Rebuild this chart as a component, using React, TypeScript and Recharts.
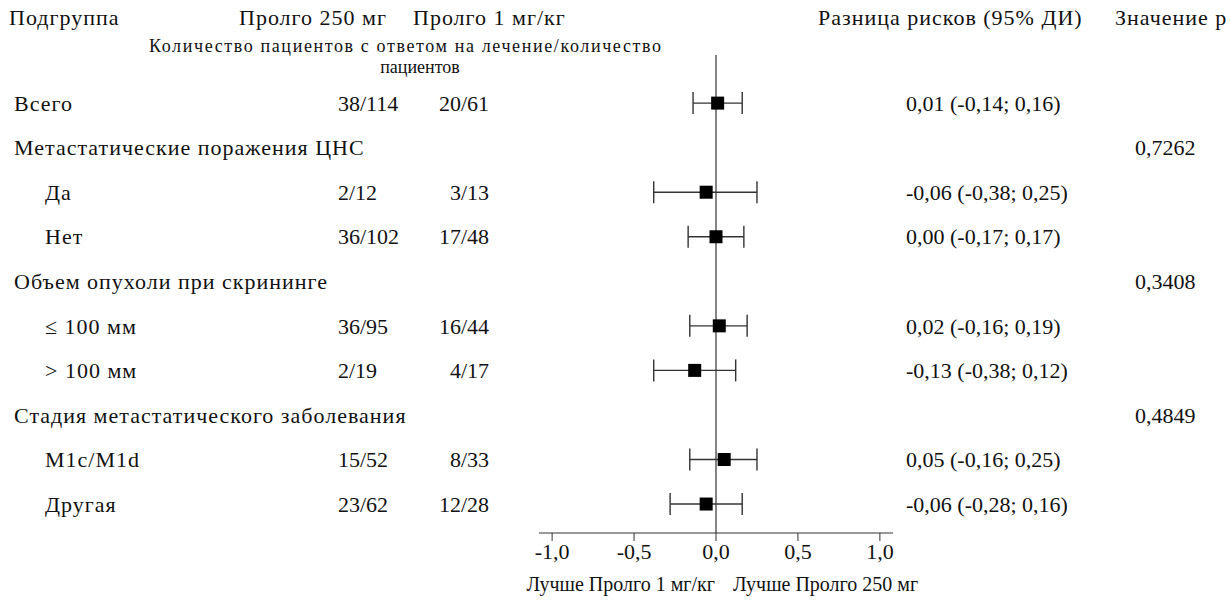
import {
  ScatterChart,
  Scatter,
  XAxis,
  YAxis,
  ErrorBar,
  ReferenceLine,
  Customized,
} from 'recharts'

document.body.style.margin = '0'

// Rows of the forest plot, top to bottom
const rowLabels = [
  'Всего',
  'Метастатические поражения ЦНС',
  'Да',
  'Нет',
  'Объем опухоли при скрининге',
  '≤ 100 мм',
  '> 100 мм',
  'Стадия метастатического заболевания',
  'M1c/M1d',
  'Другая',
]
const rowIndent = [false, false, true, true, false, true, true, false, true, true]
const resp250 = ['38/114', '', '2/12', '36/102', '', '36/95', '2/19', '', '15/52', '23/62']
const resp1 = ['20/61', '', '3/13', '17/48', '', '16/44', '4/17', '', '8/33', '12/28']
const riskDiff = [0.01, null, -0.06, 0.0, null, 0.02, -0.13, null, 0.05, -0.06]
const ciLow = [-0.14, null, -0.38, -0.17, null, -0.16, -0.38, null, -0.16, -0.28]
const ciHigh = [0.16, null, 0.25, 0.17, null, 0.19, 0.12, null, 0.25, 0.16]
const pValues = ['', '0,7262', '', '', '0,3408', '', '', '0,4849', '', '']
const xTicks = [-1, -0.5, 0, 0.5, 1]

const FONT = '"Liberation Serif", "Times New Roman", serif'
const FS = 22
const SPACING = 1
const INK = '#111'

const fmt = (v: number) => v.toFixed(2).replace('.', ',')

const points = riskDiff
  .map((rd, i) =>
    rd === null
      ? null
      : { x: rd, y: i, err: [rd - (ciLow[i] as number), (ciHigh[i] as number) - rd] }
  )
  .filter(Boolean) as Array<{ x: number; y: number; err: number[] }>

const rowIdx = rowLabels.map((_, i) => i)

// one table row: label, both response columns, risk difference and p value
function RowTick(props: any) {
  const { y, payload } = props
  const i = payload.value
  const rd = riskDiff[i]
  return (
    <g fontFamily={FONT} fontSize={FS} fill={INK}>
      <text x={rowIndent[i] ? 45 : 14} y={y} dy="0.35em" letterSpacing={SPACING}>
        {rowLabels[i]}
      </text>
      <text x={338} y={y} dy="0.35em">{resp250[i]}</text>
      <text x={489} y={y} dy="0.35em" textAnchor="end">{resp1[i]}</text>
      {rd !== null && (
        <text x={906} y={y} dy="0.35em">
          {`${fmt(rd)} (${fmt(ciLow[i] as number)}; ${fmt(ciHigh[i] as number)})`}
        </text>
      )}
      {pValues[i] && (
        <text x={1135} y={y} dy="0.35em">{pValues[i]}</text>
      )}
    </g>
  )
}

function Square(props: any) {
  const { cx, cy } = props
  return <rect x={cx - 6.5} y={cy - 6.5} width={13} height={13} fill="#000" />
}

function Headers() {
  return (
    <g fontFamily={FONT} fontSize={FS} fill={INK}>
      <text x={9} y={25} letterSpacing={SPACING}>Подгруппа</text>
      <text x={239} y={25} letterSpacing={SPACING}>Пролго 250 мг</text>
      <text x={413} y={25} letterSpacing={SPACING}>Пролго 1 мг/кг</text>
      <text x={149} y={52} fontSize={18} textLength={512} lengthAdjust="spacing">
        Количество пациентов с ответом на лечение/количество
      </text>
      <text x={420} y={73} textAnchor="middle" fontSize={18}>пациентов</text>
      <text x={818} y={25} letterSpacing={SPACING}>Разница рисков (95% ДИ)</text>
      <text x={1115} y={25} letterSpacing={SPACING}>Значение р</text>
      <text x={715} y={591} textAnchor="end" fontSize={20}>Лучше Пролго 1 мг/кг</text>
      <text x={733} y={591} fontSize={20}>Лучше Пролго 250 мг</text>
    </g>
  )
}

export default function App() {
  return (
    <ScatterChart
      width={1230}
      height={600}
      margin={{ top: 55, right: 337, left: 0, bottom: 37 }}
      style={{ background: '#fff' }}
    >
      <XAxis
        type="number"
        dataKey="x"
        domain={[-1.08, 1.08]}
        ticks={xTicks}
        allowDataOverflow
        height={30}
        tickSize={8}
        stroke="#333"
        tick={{ fill: INK, fontSize: FS, fontFamily: FONT }}
        tickFormatter={(v: number) => v.toFixed(1).replace('.', ',')}
      />
      <YAxis
        type="number"
        dataKey="y"
        domain={[-1.08, 9.65]}
        reversed
        ticks={rowIdx}
        interval={0}
        width={539}
        axisLine={false}
        tickLine={false}
        tick={<RowTick />}
      />
      <ReferenceLine x={0} stroke="#333" strokeWidth={1.2} />
      <Scatter data={points} shape={<Square />} isAnimationActive={false}>
        <ErrorBar
          dataKey="err"
          direction="x"
          width={11}
          stroke="#333"
          strokeWidth={1.4}
          isAnimationActive={false}
        />
      </Scatter>
      <Customized component={<Headers />} />
    </ScatterChart>
  )
}
